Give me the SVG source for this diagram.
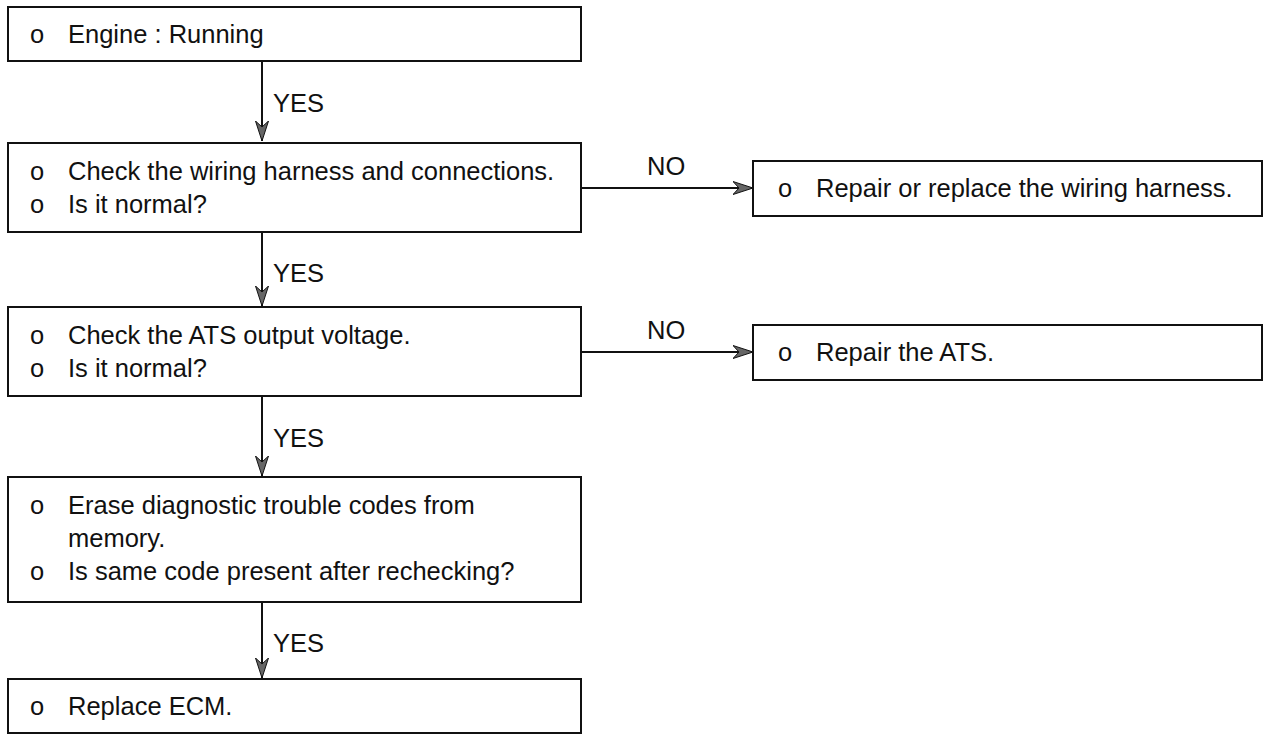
<svg xmlns="http://www.w3.org/2000/svg" width="1269" height="735" viewBox="0 0 1269 735">
<style>
.box{fill:#fff;stroke:#111;stroke-width:2}
.t{font-family:"Liberation Sans",Arial,sans-serif;font-size:25.5px;fill:#111}
.c{stroke:#111;stroke-width:2;fill:none}
</style>
<defs>
<marker id="ah" viewBox="0 0 20 14" refX="20" refY="7" markerWidth="20" markerHeight="14" markerUnits="userSpaceOnUse" orient="auto">
<path d="M0,0.5 L20,7 L0,13.5 L6,7 Z" fill="#666" stroke="#111" stroke-width="1"/>
</marker>
</defs>
<rect width="1269" height="735" fill="#fff"/>
<g id="connectors">
<line class="c" x1="262" y1="61" x2="262" y2="141" marker-end="url(#ah)"/>
<text class="t" x="273" y="112">YES</text>
<line class="c" x1="262" y1="232" x2="262" y2="306" marker-end="url(#ah)"/>
<text class="t" x="273" y="282">YES</text>
<line class="c" x1="262" y1="396" x2="262" y2="476" marker-end="url(#ah)"/>
<text class="t" x="273" y="447">YES</text>
<line class="c" x1="262" y1="602" x2="262" y2="678" marker-end="url(#ah)"/>
<text class="t" x="273" y="652">YES</text>
<line class="c" x1="581" y1="188" x2="753" y2="188" marker-end="url(#ah)"/>
<text class="t" x="647" y="175">NO</text>
<line class="c" x1="581" y1="352" x2="753" y2="352" marker-end="url(#ah)"/>
<text class="t" x="647" y="339">NO</text>
</g>
<g id="n1">
<rect class="box" x="8" y="7" width="573" height="54"/>
<text class="t" x="30" y="43">o</text><text class="t" x="68" y="43">Engine : Running</text>
</g>
<g id="n2">
<rect class="box" x="8" y="143" width="573" height="89"/>
<text class="t" x="30" y="180">o</text><text class="t" x="68" y="180">Check the wiring harness and connections.</text>
<text class="t" x="30" y="213">o</text><text class="t" x="68" y="213">Is it normal?</text>
</g>
<g id="n3">
<rect class="box" x="753" y="161" width="509" height="55"/>
<text class="t" x="778" y="197">o</text><text class="t" x="816" y="197">Repair or replace the wiring harness.</text>
</g>
<g id="n4">
<rect class="box" x="8" y="307" width="573" height="89"/>
<text class="t" x="30" y="344">o</text><text class="t" x="68" y="344">Check the ATS output voltage.</text>
<text class="t" x="30" y="377">o</text><text class="t" x="68" y="377">Is it normal?</text>
</g>
<g id="n5">
<rect class="box" x="753" y="325" width="509" height="55"/>
<text class="t" x="778" y="361">o</text><text class="t" x="816" y="361">Repair the ATS.</text>
</g>
<g id="n6">
<rect class="box" x="8" y="477" width="573" height="125"/>
<text class="t" x="30" y="514">o</text><text class="t" x="68" y="514">Erase diagnostic trouble codes from</text>
<text class="t" x="68" y="547">memory.</text>
<text class="t" x="30" y="580">o</text><text class="t" x="68" y="580">Is same code present after rechecking?</text>
</g>
<g id="n7">
<rect class="box" x="8" y="679" width="573" height="54"/>
<text class="t" x="30" y="715">o</text><text class="t" x="68" y="715">Replace ECM.</text>
</g>
</svg>
